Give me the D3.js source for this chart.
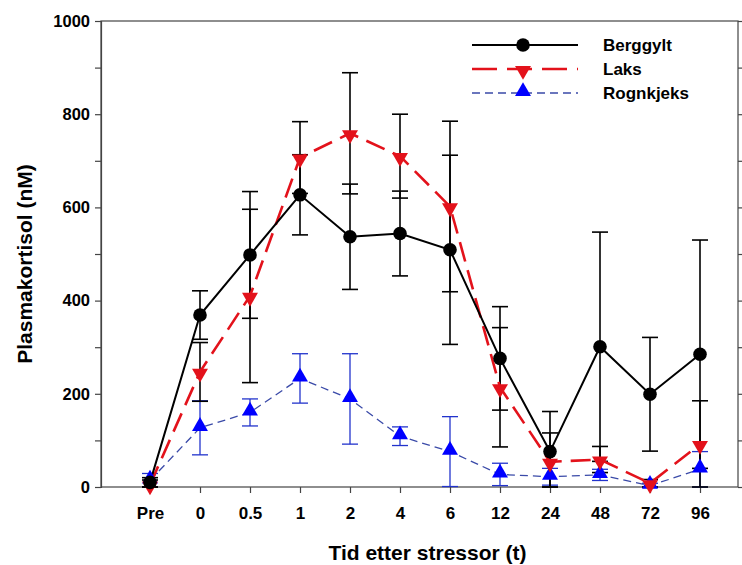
<!DOCTYPE html>
<html>
<head>
<meta charset="utf-8">
<script src="https://cdn.jsdelivr.net/npm/d3@7"></script>
<style>
  html, body { margin: 0; padding: 0; background: #fff; }
  svg { display: block; }
  text { font-family: Arial, "Liberation Sans", sans-serif; font-weight: bold; fill: #000; }
</style>
</head>
<body>
<svg id="chart" width="742" height="565"></svg>
<script>
// ---- data ----
const categories = ["Pre", "0", "0.5", "1", "2", "4", "6", "12", "24", "48", "72", "96"];
const seriesNames = ["Berggylt", "Laks", "Rognkjeks"];
const berggyltMean = [10, 369, 498, 627, 537, 544, 509, 276, 76, 301, 199, 285];
const berggyltErr  = [10, 52, 136, 86, 113, 91, 203, 111, 86, 246, 122, 245];
const laksMean     = [5, 247, 410, 707, 759, 710, 602, 214, 54, 59, 8, 92];
const laksErr      = [10, 63, 186, 77, 130, 90, 183, 128, 62, 28, 8, 93];
const rognMean     = [14, 127, 160, 233, 189, 109, 76, 27, 22, 26, 3, 38];
const rognErr      = [15, 58, 29, 53, 97, 20, 75, 24, 18, 12, 5, 38];
const yTicks = [0, 200, 400, 600, 800, 1000];
const yMinorTicks = [100, 300, 500, 700, 900];
const xTitle = "Tid etter stressor (t)";
const yTitle = "Plasmakortisol (nM)";

// ---- layout ----
const svg = d3.select("#chart");
const pLeft = 101, pRight = 738, pTop = 21, pBottom = 487;

const x = d3.scalePoint().domain(categories).range([150, 700]);
const y = d3.scaleLinear().domain([0, 1000]).range([pBottom, pTop]);

const series = [
  { name: seriesNames[0], mean: berggyltMean, err: berggyltErr,
    line: "#000", width: 2, dash: null, marker: "circle", fill: "#000", errColor: "#000", errWidth: 1.6 },
  { name: seriesNames[1], mean: laksMean, err: laksErr,
    line: "#e3121b", width: 2.6, dash: "20,9", marker: "down", fill: "#e3121b", errColor: "#000", errWidth: 1.6 },
  { name: seriesNames[2], mean: rognMean, err: rognErr,
    line: "#3a4aa8", width: 1.3, dash: "8,5", marker: "up", fill: "#0000ff", errColor: "#2233cc", errWidth: 1.3 }
];

// frame
svg.append("rect").attr("x", pLeft).attr("y", pTop)
  .attr("width", pRight - pLeft).attr("height", pBottom - pTop)
  .attr("fill", "none").attr("stroke", "#444").attr("stroke-width", 1.2);

// y axis
const yAxis = d3.axisLeft(y).tickValues(yTicks).tickFormat(d3.format("d")).tickSize(6).tickPadding(5);
const gy = svg.append("g").attr("transform", `translate(${pLeft},0)`).call(yAxis);
gy.select(".domain").attr("stroke", "#444").attr("stroke-width", 1.2);
gy.selectAll(".tick line").attr("stroke", "#444").attr("stroke-width", 1.2);
gy.selectAll(".tick text").style("font-size", "16.5px").style("font-weight", "bold")
  .style("font-family", "Arial, 'Liberation Sans', sans-serif").attr("fill", "#000");
const gyMinor = d3.axisLeft(y).tickValues(yMinorTicks).tickSize(6).tickFormat("");
const gym = svg.append("g").attr("transform", `translate(${pLeft},0)`).call(gyMinor);
gym.select(".domain").remove();
gym.selectAll(".tick line").attr("stroke", "#444").attr("stroke-width", 1.2);

// right axis ticks
const gr = svg.append("g").attr("transform", `translate(${pRight},0)`)
  .call(d3.axisRight(y).tickValues(yTicks.concat(yMinorTicks)).tickSize(5).tickFormat(""));
gr.select(".domain").remove();
gr.selectAll(".tick line").attr("stroke", "#444").attr("stroke-width", 1.2);

// x axis
const xAxis = d3.axisBottom(x).tickSize(6).tickPadding(14);
const gx = svg.append("g").attr("transform", `translate(0,${pBottom})`).call(xAxis);
gx.select(".domain").remove();
gx.selectAll(".tick line").attr("stroke", "#444").attr("stroke-width", 1.2);
gx.selectAll(".tick text").style("font-size", "17px").style("font-weight", "bold")
  .style("font-family", "Arial, 'Liberation Sans', sans-serif").attr("fill", "#000");

// titles
svg.append("text").attr("x", (pLeft + pRight) / 2 + 8).attr("y", 560)
  .attr("text-anchor", "middle").style("font-size", "21px").text(xTitle);
svg.append("text").attr("transform", `translate(32,${(pTop + pBottom) / 2 + 10}) rotate(-90)`)
  .attr("text-anchor", "middle").style("font-size", "21px").text(yTitle);

// error bars
const capW = 8;
series.slice().reverse().forEach(s => {
  const g = svg.append("g").attr("stroke", s.errColor).attr("stroke-width", s.errWidth).attr("fill", "none");
  categories.forEach((c, i) => {
    const cx = x(c);
    const hi = y(s.mean[i] + s.err[i]);
    const lo = y(Math.max(0, s.mean[i] - s.err[i]));
    g.append("line").attr("x1", cx).attr("x2", cx).attr("y1", hi).attr("y2", lo);
    g.append("line").attr("x1", cx - capW).attr("x2", cx + capW).attr("y1", hi).attr("y2", hi);
    g.append("line").attr("x1", cx - capW).attr("x2", cx + capW).attr("y1", lo).attr("y2", lo);
  });
});

// lines
const lineGen = d3.line().x((d, i) => x(categories[i])).y(d => y(d));
series.slice().reverse().forEach(s => {
  svg.append("path").datum(s.mean).attr("d", lineGen)
    .attr("fill", "none").attr("stroke", s.line).attr("stroke-width", s.width)
    .attr("stroke-dasharray", s.dash);
});

// markers
const triUp = d3.symbol().type(d3.symbolTriangle).size(110);
function drawMarker(g, s, cx, cy) {
  if (s.marker === "circle") {
    g.append("circle").attr("cx", cx).attr("cy", cy).attr("r", 6.8).attr("fill", s.fill);
  } else {
    const rot = s.marker === "down" ? 180 : 0;
    const dy = s.marker === "down" ? 1.5 : -1.5;
    g.append("path").attr("d", triUp())
      .attr("transform", `translate(${cx},${cy + dy}) rotate(${rot})`).attr("fill", s.fill);
  }
}
series.slice().reverse().forEach(s => {
  const g = svg.append("g");
  categories.forEach((c, i) => drawMarker(g, s, x(c), y(s.mean[i])));
});

// legend
const legY = [45, 69, 93];
series.forEach((s, i) => {
  const g = svg.append("g");
  g.append("line").attr("x1", 472).attr("x2", 578).attr("y1", legY[i]).attr("y2", legY[i])
    .attr("stroke", s.line).attr("stroke-width", s.width)
    .attr("stroke-dasharray", s.marker === "down" ? "25,10" : s.dash);
  drawMarker(g, s, 523, legY[i]);
  g.append("text").attr("x", 603).attr("y", legY[i]).attr("dy", "0.36em")
    .style("font-size", "17px").text(s.name);
});
</script>
</body>
</html>
